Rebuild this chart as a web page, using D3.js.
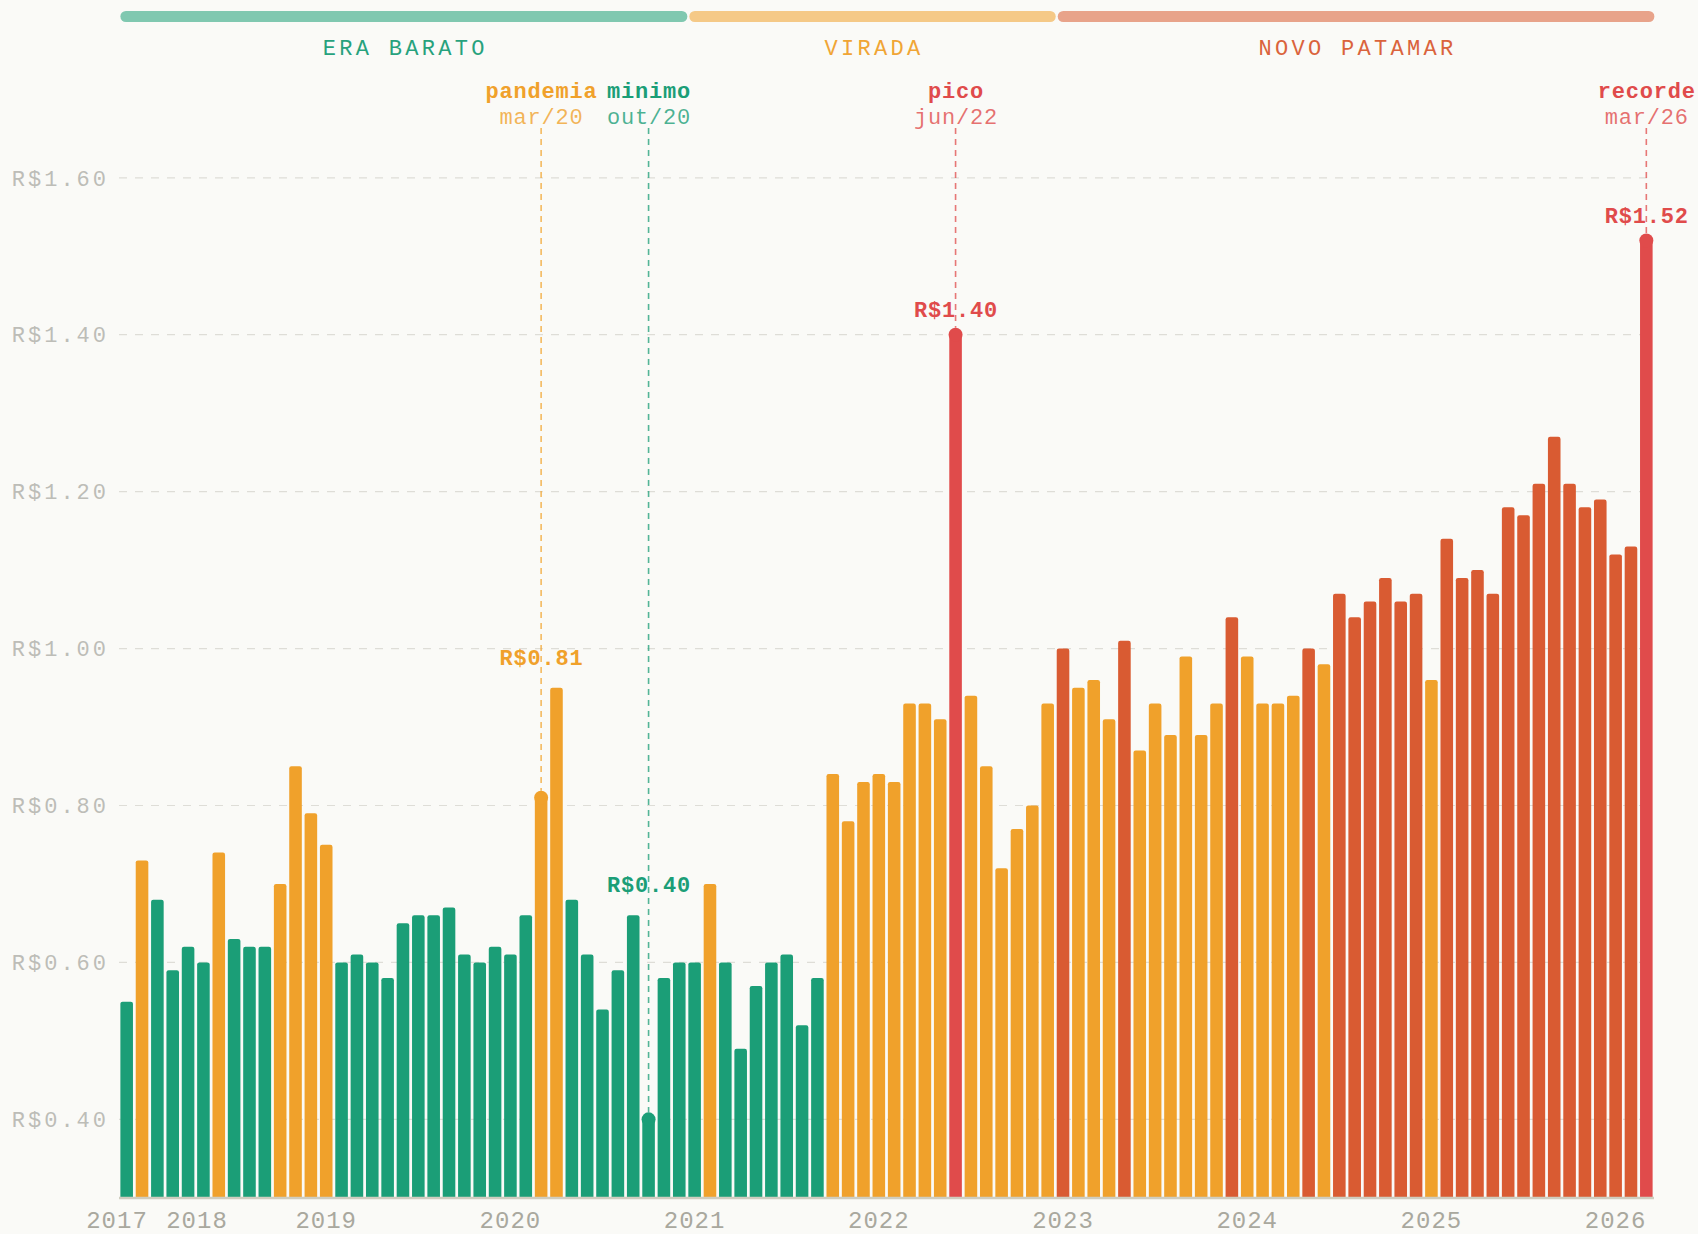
<!DOCTYPE html>
<html>
<head>
<meta charset="utf-8">
<script src="https://cdn.jsdelivr.net/npm/d3@7"></script>
<style>
  body { margin: 0; background: #fafaf7; }
  svg { display: block; }
  text { font-family: "Courier New", Courier, "Nimbus Mono PS", "FreeMono", "Liberation Mono", monospace; }
</style>
</head>
<body>
<div id="chart"></div>
<script>
// Preco mensal (R$) - barras por mes, dez/17 a mar/26

// Part I. Data
var monthNames = ["jan","fev","mar","abr","mai","jun","jul","ago","set","out","nov","dez"];
var firstMonth = {year: 2017, month: 11};   // dez/17
var prices = [
  0.55,
  0.73, 0.68, 0.59, 0.62, 0.60, 0.74, 0.63, 0.62, 0.62, 0.70, 0.85, 0.79,
  0.75, 0.60, 0.61, 0.60, 0.58, 0.65, 0.66, 0.66, 0.67, 0.61, 0.60, 0.62,
  0.61, 0.66, 0.81, 0.95, 0.68, 0.61, 0.54, 0.59, 0.66, 0.40, 0.58, 0.60,
  0.60, 0.70, 0.60, 0.49, 0.57, 0.60, 0.61, 0.52, 0.58, 0.84, 0.78, 0.83,
  0.84, 0.83, 0.93, 0.93, 0.91, 1.40, 0.94, 0.85, 0.72, 0.77, 0.80, 0.93,
  1.00, 0.95, 0.96, 0.91, 1.01, 0.87, 0.93, 0.89, 0.99, 0.89, 0.93, 1.04,
  0.99, 0.93, 0.93, 0.94, 1.00, 0.98, 1.07, 1.04, 1.06, 1.09, 1.06, 1.07,
  0.96, 1.14, 1.09, 1.10, 1.07, 1.18, 1.17, 1.21, 1.27, 1.21, 1.18, 1.19,
  1.12, 1.13, 1.52
];
var yTicks = [0.40, 0.60, 0.80, 1.00, 1.20, 1.40, 1.60];
var years = ["2017","2018","2019","2020","2021","2022","2023","2024","2025","2026"];

var phaseNames = ["ERA BARATO", "VIRADA", "NOVO PATAMAR"];
var phaseStart = ["dez/17", "jan/21", "jan/23"];
var phaseEnd = ["dez/20", "dez/22", "mar/26"];

var noteTitles = ["pandemia", "minimo", "pico", "recorde"];
var noteMonths = ["mar/20", "out/20", "jun/22", "mar/26"];
var peakNotes = ["pico", "recorde"];

// month keys for every bar
var months = prices.map(function(p, i) {
    var m = firstMonth.month + i;
    var yr = firstMonth.year + Math.floor(m / 12);
    return monthNames[m % 12] + "/" + String(yr).slice(2);
});

// colours
var green = "#1b9e77", orange = "#f0a12b", rust = "#d95b32", red = "#e04b4b";
function toneOf(v) {
    if (v >= 1.0) return rust;
    if (v >= 0.70) return orange;
    return green;
}
function barColor(i) {
    var n = noteMonths.indexOf(months[i]);
    if (n >= 0 && peakNotes.indexOf(noteTitles[n]) >= 0) return red;
    return toneOf(prices[i]);
}

// Part II. Chart
var svgWidth = 1698, svgHeight = 1234;
var svg = d3.select("#chart").append("svg")
    .attr("width", svgWidth)
    .attr("height", svgHeight);

svg.append("rect").attr("width", svgWidth).attr("height", svgHeight).attr("fill", "#fafaf7");

var x = d3.scaleBand()
    .domain(months)
    .range([119, 1654])
    .paddingInner(0.18)
    .paddingOuter(0.09);

var y = d3.scaleLinear()
    .domain([0.30, 1.60])
    .range([1197.8, 177.8]);

var bw = x.bandwidth();
var step = x.step();
var fmt = d3.format(".2f");

// gridlines + y labels
var grid = svg.append("g").attr("class", "grid");
grid.selectAll("line")
    .data(yTicks)
    .enter()
    .append("line")
    .attr("x1", x.range()[0])
    .attr("x2", x.range()[1])
    .attr("y1", d => y(d))
    .attr("y2", d => y(d))
    .attr("stroke", "#deddd7")
    .attr("stroke-width", 1.2)
    .attr("stroke-dasharray", "8,8");

grid.selectAll("text")
    .data(yTicks)
    .enter()
    .append("text")
    .attr("x", 109)
    .attr("y", d => y(d))
    .attr("dy", "0.35em")
    .attr("text-anchor", "end")
    .attr("font-size", "22px")
    .attr("letter-spacing", "3px")
    .attr("fill", "#bdbdb7")
    .text(d => "R$" + fmt(d));

// phase bands on top
phaseNames.forEach(function(name, k) {
    var i0 = months.indexOf(phaseStart[k]);
    var i1 = months.indexOf(phaseEnd[k]);
    var base = [green, orange, rust][k];
    var x0 = x(months[i0]) + (k > 0 ? 1 : 0);
    var x1 = x(months[i1]) + step - 1;
    svg.append("rect")
        .attr("x", x0)
        .attr("y", 11)
        .attr("width", x1 - x0)
        .attr("height", 11)
        .attr("rx", 5.5)
        .attr("fill", base)
        .attr("opacity", 0.55);
    svg.append("text")
        .attr("x", (x0 + x1) / 2 + 1.5)
        .attr("y", 55)
        .attr("text-anchor", "middle")
        .attr("font-size", "22px")
        .attr("letter-spacing", "3.3px")
        .attr("fill", base)
        .attr("opacity", 0.95)
        .text(name);
});

// annotation dashed lines (behind bars)
var notes = noteMonths.map(function(m, k) {
    var i = months.indexOf(m);
    var c = barColor(i);
    var near = prices.slice(Math.max(0, i - 1), i + 2);
    var top = d3.max(near);
    return {i: i, month: m, title: noteTitles[k], color: c, value: prices[i],
            labelY: y(top) - (top > prices[i] ? 23 : 18)};
});

svg.append("g").selectAll("line")
    .data(notes)
    .enter()
    .append("line")
    .attr("x1", d => x(d.month) + bw / 2)
    .attr("x2", d => x(d.month) + bw / 2)
    .attr("y1", 128)
    .attr("y2", d => y(d.value) - 7)
    .attr("stroke", d => d.color)
    .attr("stroke-opacity", 0.75)
    .attr("stroke-width", 1.6)
    .attr("stroke-dasharray", "6,5");

// bars with rounded tops
function barPath(x0, y0, w, h, r) {
    return "M" + x0 + "," + (y0 + h) +
        "V" + (y0 + r) +
        "Q" + x0 + "," + y0 + " " + (x0 + r) + "," + y0 +
        "H" + (x0 + w - r) +
        "Q" + (x0 + w) + "," + y0 + " " + (x0 + w) + "," + (y0 + r) +
        "V" + (y0 + h) + "Z";
}

svg.append("g").attr("class", "bars")
    .selectAll("path")
    .data(prices)
    .enter()
    .append("path")
    .attr("d", (d, i) => barPath(x(months[i]), y(d), bw, y.range()[0] - y(d), 2.2))
    .attr("fill", (d, i) => barColor(i));

// baseline
svg.append("line")
    .attr("x1", x.range()[0])
    .attr("x2", x.range()[1])
    .attr("y1", 1198)
    .attr("y2", 1198)
    .attr("stroke", "#cfcdbf")
    .attr("stroke-width", 2.5);

// dots, labels
var noteG = svg.append("g").attr("class", "notes");
noteG.selectAll("circle")
    .data(notes)
    .enter()
    .append("circle")
    .attr("cx", d => x(d.month) + bw / 2)
    .attr("cy", d => y(d.value))
    .attr("r", 7)
    .attr("fill", d => d.color);

noteG.selectAll(".valueLabel")
    .data(notes)
    .enter()
    .append("text")
    .attr("class", "valueLabel")
    .attr("x", d => x(d.month) + bw / 2 + 0.5)
    .attr("y", d => d.labelY)
    .attr("text-anchor", "middle")
    .attr("font-size", "22px")
    .attr("font-weight", "bold")
    .attr("letter-spacing", "0.8px")
    .attr("fill", d => d.color)
    .text(d => "R$" + fmt(d.value));

noteG.selectAll(".noteTitle")
    .data(notes)
    .enter()
    .append("text")
    .attr("class", "noteTitle")
    .attr("x", d => x(d.month) + bw / 2 + 0.5)
    .attr("y", 98)
    .attr("text-anchor", "middle")
    .attr("font-size", "22px")
    .attr("font-weight", "bold")
    .attr("letter-spacing", "0.8px")
    .attr("fill", d => d.color)
    .text(d => d.title);

noteG.selectAll(".noteDate")
    .data(notes)
    .enter()
    .append("text")
    .attr("class", "noteDate")
    .attr("x", d => x(d.month) + bw / 2 + 0.5)
    .attr("y", 123.5)
    .attr("text-anchor", "middle")
    .attr("font-size", "22px")
    .attr("letter-spacing", "0.8px")
    .attr("fill", d => d.color)
    .attr("fill-opacity", 0.78)
    .text(d => d.month);

// year labels at first month of each year, pushed apart when crowded
var yearPos = years.map(function(yr) {
    var i = months.findIndex(m => m.slice(4) === yr.slice(2));
    return x(months[i]) + bw / 2;
});
yearPos[0] = Math.min(yearPos[0], x.range()[0] - 2);
for (var k = 1; k < yearPos.length; k++) {
    if (yearPos[k] - yearPos[k - 1] < 80) yearPos[k] = yearPos[k - 1] + 80;
}

svg.append("g").attr("class", "years")
    .selectAll("text")
    .data(years)
    .enter()
    .append("text")
    .attr("x", (d, k) => yearPos[k])
    .attr("y", 1228)
    .attr("text-anchor", "middle")
    .attr("font-size", "24px")
    .attr("letter-spacing", "1px")
    .attr("fill", "#a9a89e")
    .text(d => d);
</script>
</body>
</html>
